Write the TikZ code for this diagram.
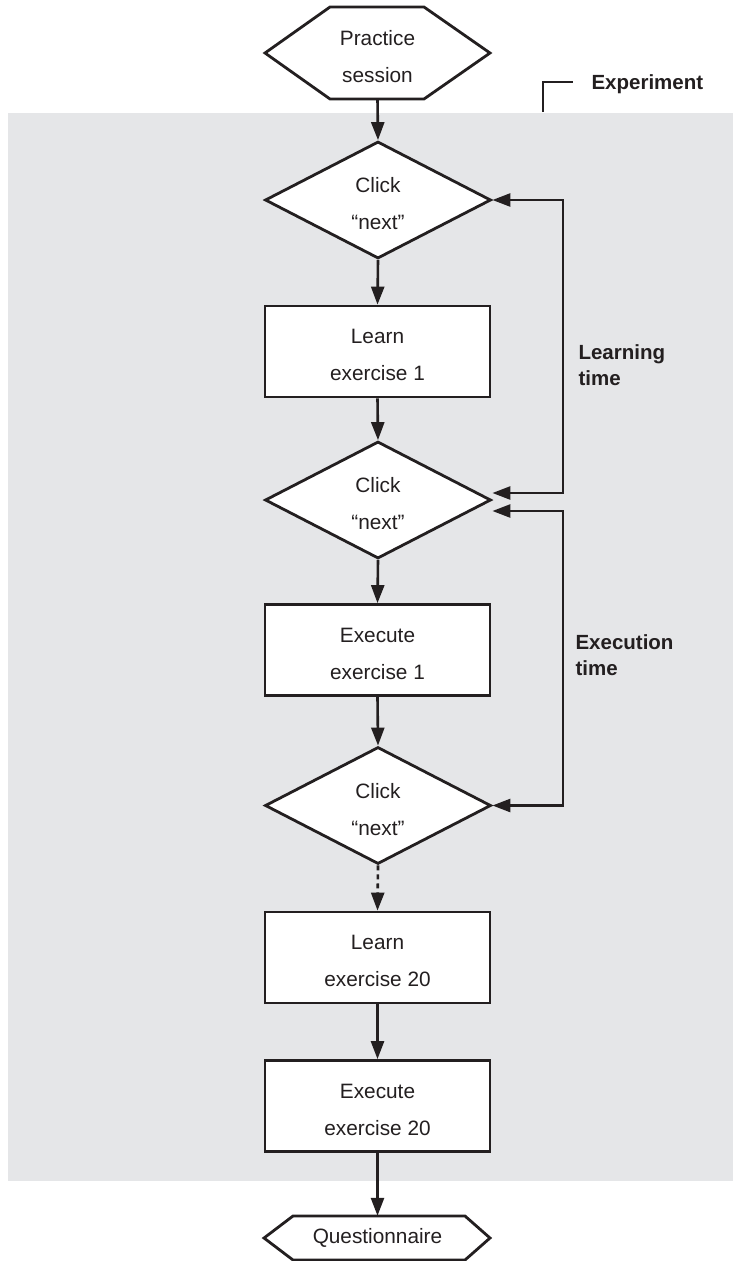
\documentclass[tikz,border=0pt]{standalone}
\usepackage{fontspec}
\setmainfont{Liberation Sans}
\usetikzlibrary{arrows.meta,shapes.geometric,calc}
\definecolor{bggray}{RGB}{229,230,232}
\definecolor{ink}{RGB}{35,31,32}
\newcommand{\dnA}{\rule{0pt}{22pt}}
\newcommand{\dnB}{\rule{0pt}{23pt}}
\begin{document}
\begin{tikzpicture}[x=1pt,y=-1pt,
  every node/.style={text=ink},
  txt/.style={font=\fontsize{20.8pt}{37pt}\selectfont, align=center},
  lbl/.style={font=\fontsize{20.5pt}{26pt}\selectfont\bfseries, align=left, anchor=west},
  boxnode/.style={txt, draw=ink, line width=2.8pt, fill=white, rectangle, minimum width=225pt, minimum height=91pt, inner sep=0pt},
  decnode/.style={txt, draw=ink, line width=2.8pt, fill=white, diamond, aspect=1.93, minimum width=226pt, minimum height=117pt, inner sep=0pt},
  hexline/.style={draw=ink, line width=2.8pt, fill=white, line join=miter},
  conn/.style={draw=ink, line width=2.6pt, -{Triangle[length=18pt,width=13pt]}},
  both/.style={draw=ink, line width=2.6pt, {Triangle[length=18pt,width=13pt]}-{Triangle[length=18pt,width=13pt]}},
  bracket/.style={draw=ink, line width=1.6pt}
]
\useasboundingbox (0,0) rectangle (733,1261);
% experiment background
\fill[bggray] (8,113) rectangle (733,1181);

% top hexagon
\draw[hexline] (265,53) -- (330,7) -- (424,7) -- (490,53) -- (424,99) -- (330,99) -- cycle;
\node[txt, minimum width=225pt, minimum height=92pt, inner sep=0pt] (ps) at (377.5,53) {\dnA Practice\\session};

% bottom hexagon
\draw[hexline] (264,1238) -- (293,1216) -- (465,1216) -- (490,1238) -- (465,1260) -- (293,1260) -- cycle;
\node[txt, minimum width=226pt, minimum height=44pt, inner sep=0pt] (qn) at (377.5,1238) {Questionnaire};

% experiment bracket
\coordinate (bk1) at (543,112);
\coordinate (bk2) at (573,82);
\draw[bracket] (bk1) |- (bk2);
\node[lbl] (exp) at (588,84) {Experiment};

% main nodes
\node[decnode] (d1) at (378,200) {\dnB Click\\“next”};
\node[boxnode] (l1) at (377.5,351.5) {\dnA Learn\\exercise 1};
\node[decnode] (d2) at (378,500) {\dnB Click\\“next”};
\node[boxnode] (e1) at (377.5,650) {\dnA Execute\\exercise 1};
\node[decnode] (d3) at (378,805.5) {\dnB Click\\“next”};
\node[boxnode] (l20) at (377.5,957.5) {\dnA Learn\\exercise 20};
\node[boxnode] (e20) at (377.5,1106) {\dnA Execute\\exercise 20};

% flow arrows
\draw[conn] (ps.south) -- (d1.north);
\draw[conn] (d1.south) -- (l1.north);
\draw[conn] (l1.south) -- (d2.north);
\draw[conn] (d2.south) -- (e1.north);
\draw[conn] (e1.south) -- (d3.north);
\draw[conn, dash pattern=on 5pt off 4pt] (d3.south) -- (l20.north);
\draw[conn] (l20.south) -- (e20.north);
\draw[conn] (e20.south) -- (qn.north);

% timing loops
\coordinate (lc) at (563,493);
\coordinate (ec) at (563,511);
\draw[both] (d1.east) -| (lc) -- (lc -| d2.east);
\draw[both] (ec -| d2.east) -- (ec) |- (d3.east);

\node[lbl] (lt) at (575,365) {Learning\\time};
\node[lbl] (et) at (572,655) {Execution\\time};
\end{tikzpicture}
\end{document}
